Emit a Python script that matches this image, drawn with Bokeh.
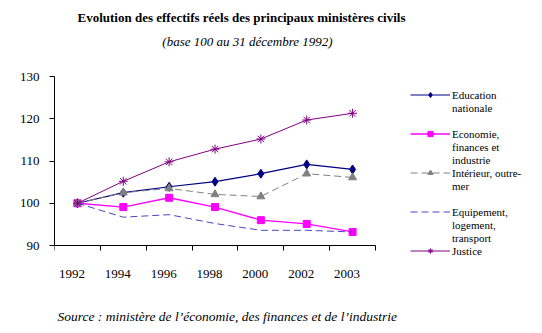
from bokeh.plotting import figure
from bokeh.models import (Range1d, FixedTicker, LinearAxis, Legend, LegendItem, Label)
from bokeh.embed import file_html
from bokeh.resources import INLINE

years = ["1992", "1994", "1996", "1998", "2000", "2002", "2003"]
education = [100, 102.5, 103.9, 105.1, 107.0, 109.2, 108.0]
economie = [100, 99.1, 101.3, 99.1, 96.0, 95.1, 93.2]
interieur = [100, 102.5, 103.5, 102.1, 101.6, 107.0, 106.1]
equipement = [100, 96.7, 97.3, 95.2, 93.6, 93.6, 93.2]
justice = [100, 105.2, 109.8, 112.8, 115.2, 119.7, 121.3]
y_ticks = [90, 100, 110, 120, 130]

title_text = "Evolution des effectifs réels des principaux ministères civils"
subtitle_text = "(base 100 au 31 décembre 1992)"
source_text = "Source : ministère de l’économie, des finances et de l’industrie"
legend_lines = [
    ["Education", "nationale", ""],
    ["Economie,", "finances et", "industrie"],
    ["Intérieur, outre-", "mer", ""],
    ["Equipement,", "logement,", "transport"],
    ["Justice"],
]

n = len(years)
xs = [i + 0.5 for i in range(n)]
label_pos = [x - 0.12 for x in xs]

W, H = 542, 333
FL = 54                      # frame left (y axis)
AX_RIGHT, AX_TOP, AX_BOTTOM = 375, 76, 245   # extent of the drawn axes, in pixels
ppx = (AX_RIGHT - FL) / n            # pixels per x unit
ppy = (AX_BOTTOM - AX_TOP) / 40.0    # pixels per y unit

def dx(px):
    return (px - FL) / ppx

def dy(py):
    return 90 + (AX_BOTTOM - py) / ppy

p = figure(width=W, height=H, output_backend="svg", toolbar_location=None,
           x_range=Range1d(dx(FL), dx(W)), y_range=Range1d(dy(H), dy(0)),
           x_axis_type=None, y_axis_type=None, title=None,
           min_border_left=FL, min_border_right=0,
           min_border_top=0, min_border_bottom=0)
p.outline_line_color = None
p.xgrid.visible = False
p.ygrid.visible = False
p.background_fill_color = "white"
p.border_fill_color = "white"

tick_font = "Liberation Sans Narrow"
xaxis = LinearAxis(ticker=FixedTicker(ticks=label_pos, minor_ticks=list(range(n + 1))),
                   major_label_overrides={x: y for x, y in zip(label_pos, years)},
                   bounds=(0, n), fixed_location=90)
xaxis.major_tick_line_color = None
xaxis.major_tick_out = 0
xaxis.major_tick_in = 0
xaxis.minor_tick_out = 5
xaxis.minor_tick_in = 0
xaxis.minor_tick_line_color = "black"
xaxis.axis_line_color = "black"
xaxis.major_label_standoff = 19
xaxis.major_label_text_font = tick_font
xaxis.major_label_text_font_size = "13px"
xaxis.major_label_text_color = "black"
p.add_layout(xaxis, "below")

yaxis = LinearAxis(ticker=FixedTicker(ticks=y_ticks, minor_ticks=[]), bounds=(90, 130))
yaxis.major_tick_out = 5
yaxis.major_tick_in = 0
yaxis.minor_tick_line_color = None
yaxis.axis_line_color = "black"
yaxis.major_label_standoff = 10
yaxis.major_label_text_font = tick_font
yaxis.major_label_text_font_size = "13px"
yaxis.major_label_text_color = "black"
p.add_layout(yaxis, "left")

series = [
    dict(y=education, color="#000080", dash="solid", marker="diamond", size=9, lw=1.2),
    dict(y=economie, color="#ff00ff", dash="solid", marker="square", size=7, lw=1.3),
    dict(y=interieur, color="#808080", dash="7 4", marker="triangle", size=8, lw=1),
    dict(y=equipement, color="#4646c0", dash="7 4", marker=None, size=0, lw=1),
    dict(y=justice, color="#800080", dash="solid", marker="asterisk", size=9, lw=1),
]

items = []
for s, lines in zip(series, legend_lines):
    rs = [p.line(xs, s["y"], line_color=s["color"], line_width=s["lw"], line_dash=s["dash"])]
    if s["marker"]:
        rs.append(p.scatter(xs, s["y"], marker=s["marker"], size=s["size"],
                            fill_color=s["color"], line_color=s["color"]))
    items.append(LegendItem(label=lines[0], renderers=rs))
    for t in lines[1:]:
        blank = p.line([], [], line_alpha=0)
        items.append(LegendItem(label=t if t else " ", renderers=[blank]))

legend = Legend(items=items, location=(410 - FL, H - 257), orientation="vertical",
                glyph_width=40, glyph_height=13, label_height=13, spacing=0,
                padding=0, margin=0, label_standoff=2,
                border_line_color=None, background_fill_alpha=0,
                label_text_font="Liberation Serif", label_text_font_size="11px",
                label_text_color="black")
p.add_layout(legend)

serif = "Liberation Serif"
p.add_layout(Label(x=dx(241), y=dy(17), text=title_text, text_font=serif,
                   text_font_size="13px", text_font_style="bold",
                   text_align="center", text_baseline="middle", text_color="black"))
p.add_layout(Label(x=dx(247), y=dy(41), text=subtitle_text, text_font=serif,
                   text_font_size="13px", text_font_style="italic",
                   text_align="center", text_baseline="middle", text_color="black"))
p.add_layout(Label(x=dx(57), y=dy(316), text=source_text, text_font=serif,
                   text_font_size="13.5px", text_font_style="italic",
                   text_align="left", text_baseline="middle", text_color="black"))

with open("out.html", "w") as f:
    f.write(file_html(p, INLINE))
